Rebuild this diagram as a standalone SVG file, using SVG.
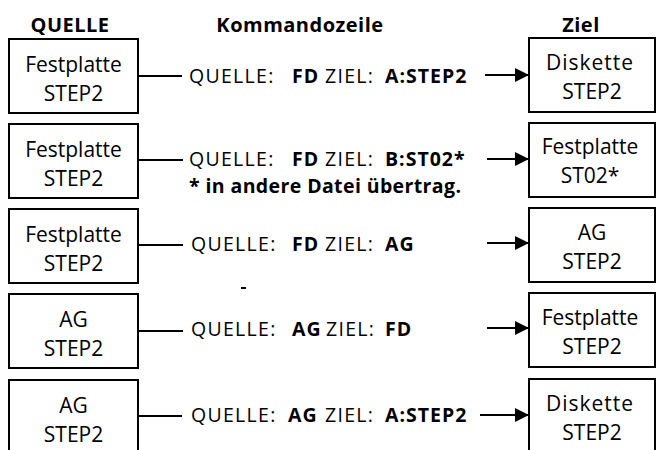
<svg xmlns="http://www.w3.org/2000/svg" width="656" height="450" viewBox="0 0 656 450">
<defs>
<style>
.box{fill:#fff;stroke:#000;stroke-width:2}
.bt{font-family:"Open Sans","Liberation Sans",sans-serif;font-size:21px;text-anchor:middle;fill:#000}
.hd{font-family:"Open Sans","Liberation Sans",sans-serif;font-size:20px;font-weight:bold;letter-spacing:0.5px;text-anchor:middle;fill:#000}
.cmd{font-family:"Open Sans","Liberation Sans",sans-serif;font-size:19.5px;letter-spacing:1.3px;fill:#000}
.b{font-weight:bold;letter-spacing:1px}
.ln{stroke:#000;stroke-width:2;fill:none}
</style>
<marker id="ah" viewBox="0 0 14 14" refX="14" refY="7" markerWidth="14" markerHeight="14" markerUnits="userSpaceOnUse" orient="auto">
<path d="M0,0 L14,7 L0,14 Z" fill="#000"/>
</marker>
</defs>
<rect width="656" height="450" fill="#fff"/>

<g id="headers">
<text class="hd" x="70" y="32">QUELLE</text>
<text class="hd" x="300" y="32">Kommandozeile</text>
<text class="hd" x="581" y="32">Ziel</text>
</g>

<g id="src1"><rect class="box" x="9" y="39" width="129" height="74"/><text class="bt" x="73.5" y="72">Festplatte</text><text class="bt" x="73.5" y="101">STEP2</text></g>
<g id="src2"><rect class="box" x="9" y="124" width="129" height="74"/><text class="bt" x="73.5" y="157">Festplatte</text><text class="bt" x="73.5" y="186">STEP2</text></g>
<g id="src3"><rect class="box" x="9" y="209" width="129" height="74"/><text class="bt" x="73.5" y="242">Festplatte</text><text class="bt" x="73.5" y="271">STEP2</text></g>
<g id="src4"><rect class="box" x="9" y="294" width="129" height="74"/><text class="bt" x="73.5" y="327">AG</text><text class="bt" x="73.5" y="356">STEP2</text></g>
<g id="src5"><rect class="box" x="9" y="380" width="129" height="80"/><text class="bt" x="73.5" y="413">AG</text><text class="bt" x="73.5" y="442">STEP2</text></g>

<g id="dst1"><rect class="box" x="529" y="38" width="126" height="74"/><text class="bt" x="590" y="70" letter-spacing="1">Diskette</text><text class="bt" x="592" y="99">STEP2</text></g>
<g id="dst2"><rect class="box" x="529" y="123" width="126" height="74"/><text class="bt" x="590" y="154">Festplatte</text><text class="bt" x="590" y="183">ST02*</text></g>
<g id="dst3"><rect class="box" x="529" y="208" width="126" height="74"/><text class="bt" x="592" y="240">AG</text><text class="bt" x="592" y="269">STEP2</text></g>
<g id="dst4"><rect class="box" x="529" y="293" width="126" height="74"/><text class="bt" x="590" y="325">Festplatte</text><text class="bt" x="592" y="354">STEP2</text></g>
<g id="dst5"><rect class="box" x="529" y="379" width="126" height="80"/><text class="bt" x="590" y="411" letter-spacing="1">Diskette</text><text class="bt" x="592" y="440">STEP2</text></g>

<g id="connectors">
<line class="ln" x1="138" y1="76" x2="182" y2="76"/>
<line class="ln" x1="485" y1="75" x2="529" y2="75" marker-end="url(#ah)"/>
<line class="ln" x1="138" y1="160" x2="183" y2="160"/>
<line class="ln" x1="487" y1="159" x2="529" y2="159" marker-end="url(#ah)"/>
<line class="ln" x1="138" y1="245" x2="183" y2="245"/>
<line class="ln" x1="487" y1="243" x2="529" y2="243" marker-end="url(#ah)"/>
<line class="ln" x1="138" y1="331" x2="183" y2="331"/>
<line class="ln" x1="487" y1="328" x2="529" y2="328" marker-end="url(#ah)"/>
<line class="ln" x1="138" y1="416" x2="182" y2="416"/>
<line class="ln" x1="480" y1="415" x2="529" y2="415" marker-end="url(#ah)"/>
</g>

<g id="commands">
<text class="cmd" y="83"><tspan x="189">QUELLE:</tspan><tspan x="292" class="b">FD</tspan><tspan x="325">ZIEL:</tspan><tspan x="385" class="b">A:STEP2</tspan></text>
<text class="cmd" y="166"><tspan x="189">QUELLE:</tspan><tspan x="292" class="b">FD</tspan><tspan x="325">ZIEL:</tspan><tspan x="385" class="b">B:ST02*</tspan></text>
<text class="cmd b" x="189" y="193" textLength="273" lengthAdjust="spacing" letter-spacing="0">* in andere Datei übertrag.</text>
<text class="cmd" y="251"><tspan x="191">QUELLE:</tspan><tspan x="292" class="b">FD</tspan><tspan x="325">ZIEL:</tspan><tspan x="385" class="b">AG</tspan></text>
<text class="cmd" y="336"><tspan x="191">QUELLE:</tspan><tspan x="292" class="b">AG</tspan><tspan x="326">ZIEL:</tspan><tspan x="385" class="b">FD</tspan></text>
<text class="cmd" y="422"><tspan x="191">QUELLE:</tspan><tspan x="288" class="b">AG</tspan><tspan x="325">ZIEL:</tspan><tspan x="385" class="b">A:STEP2</tspan></text>
</g>

<rect x="241" y="287" width="5" height="2" fill="#000"/>
</svg>
